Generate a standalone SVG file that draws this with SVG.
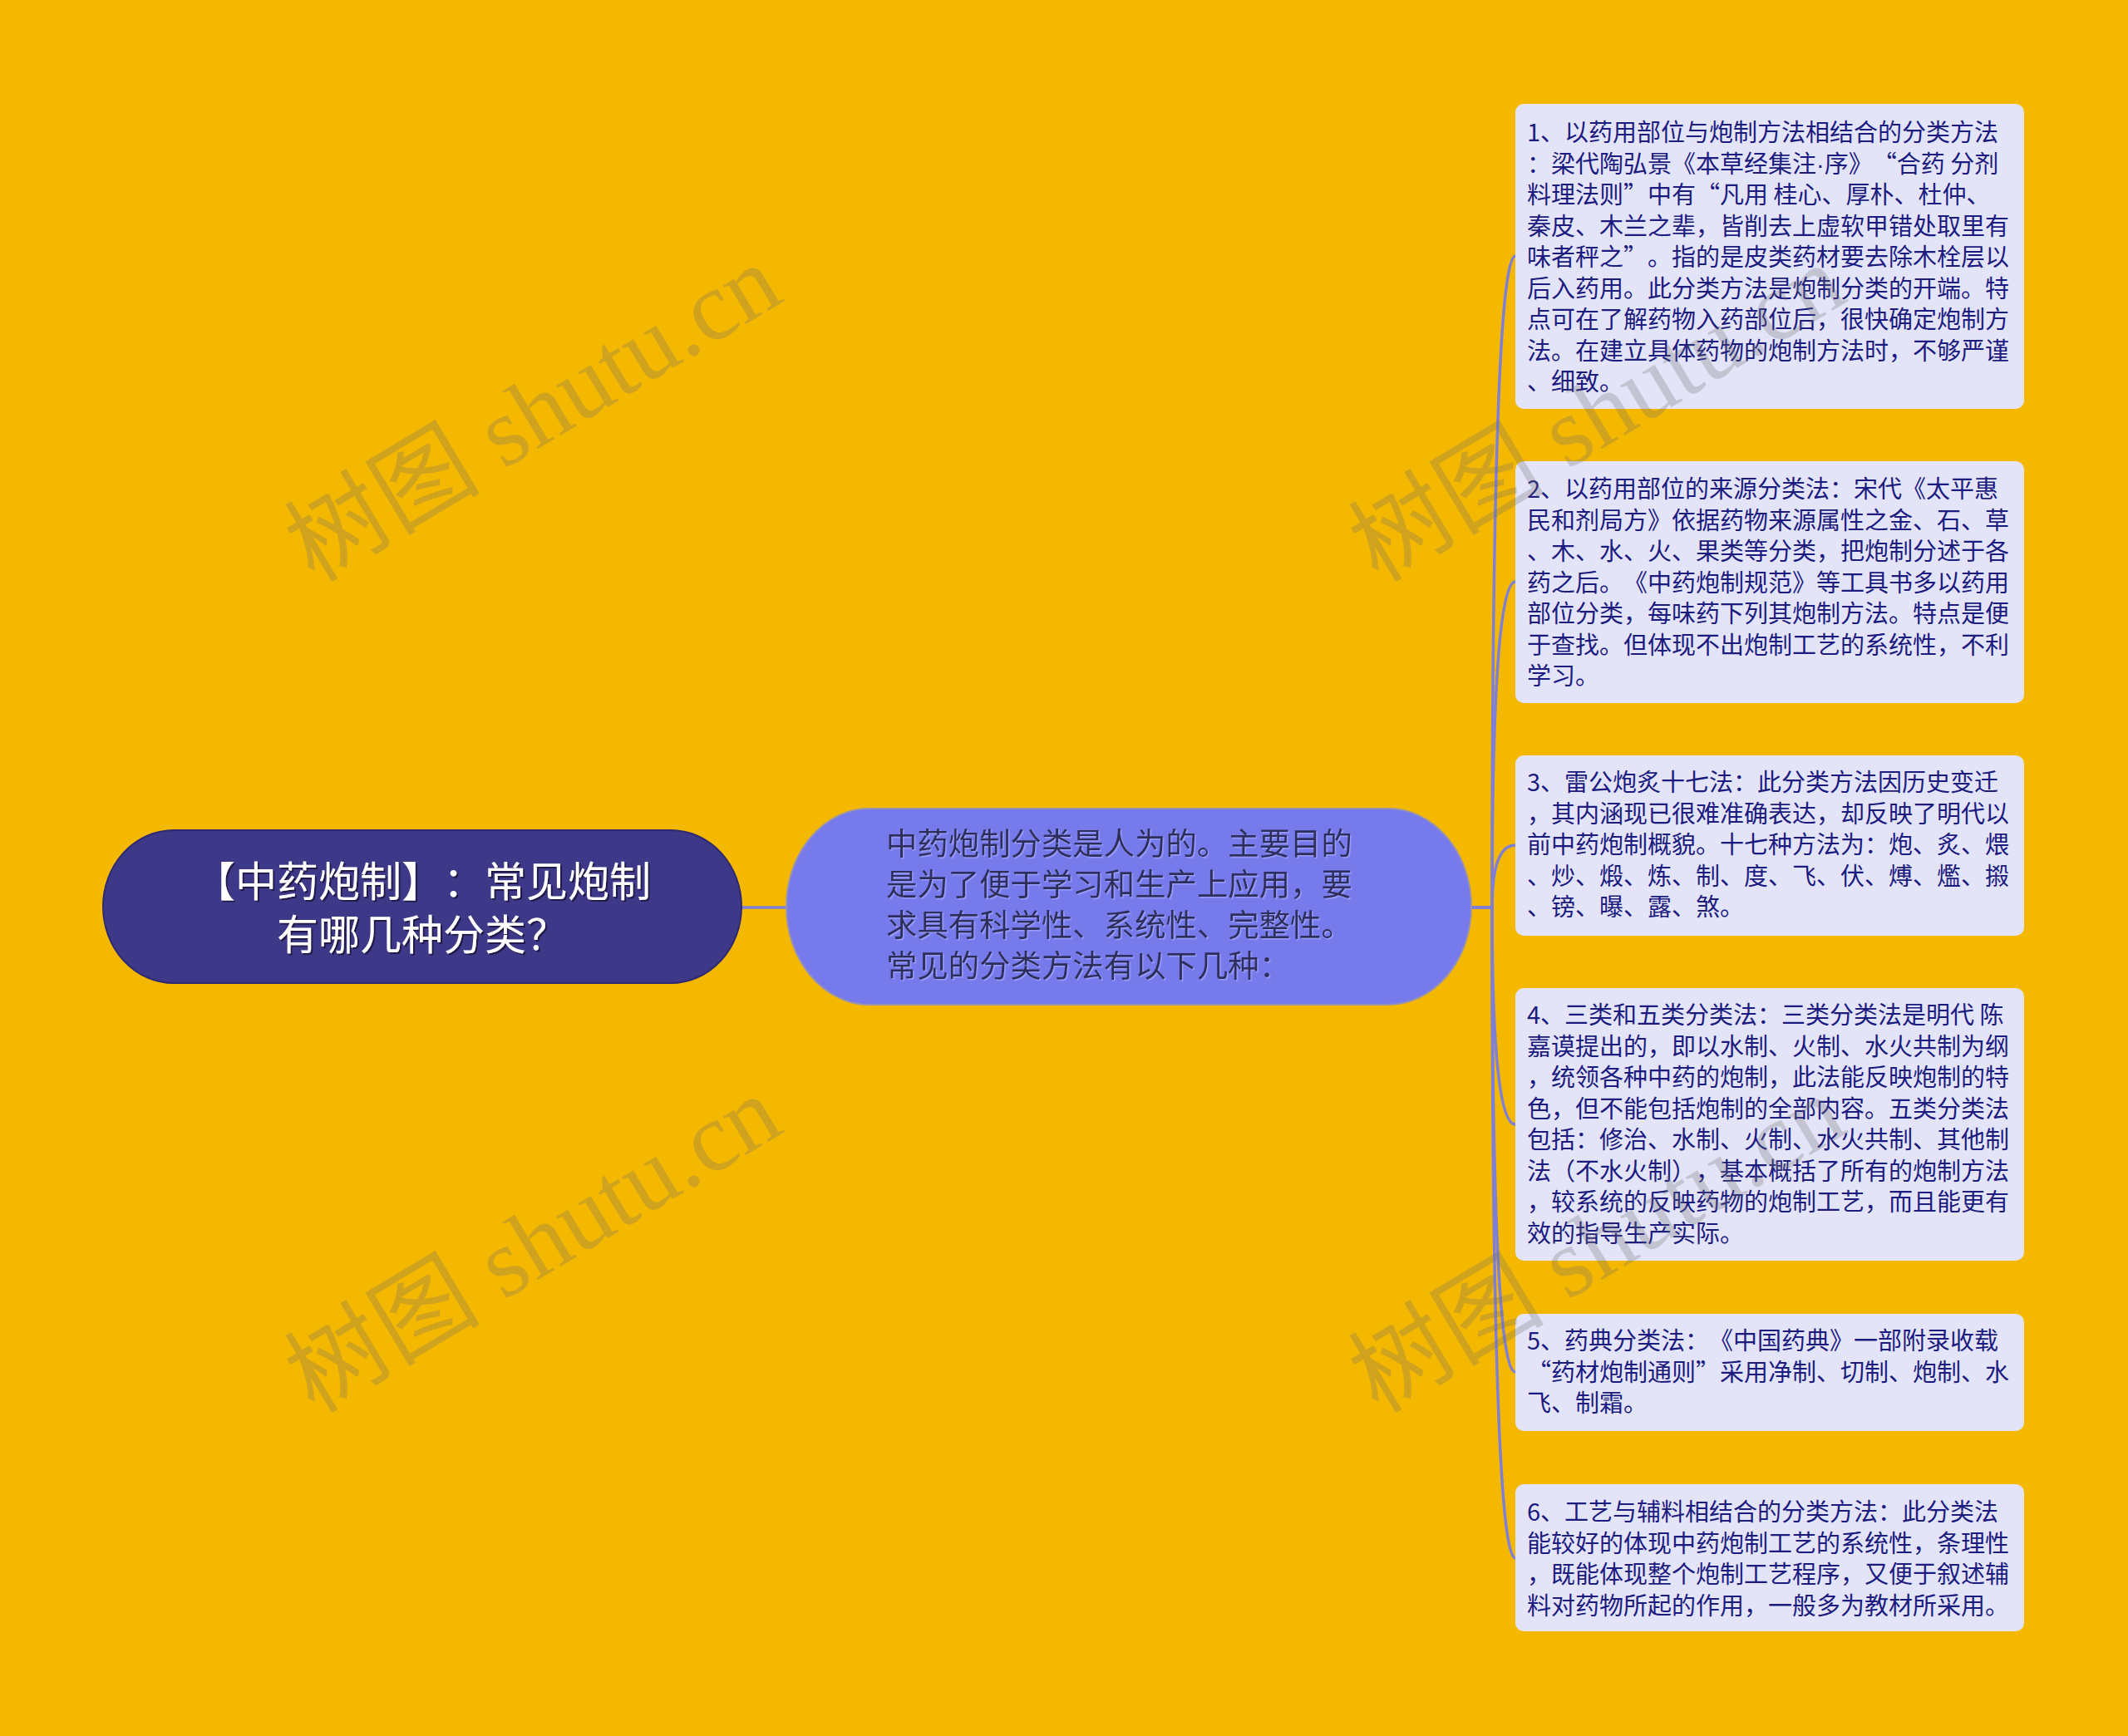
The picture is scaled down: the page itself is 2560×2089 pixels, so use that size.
<svg xmlns="http://www.w3.org/2000/svg" width="2560" height="2089" viewBox="0 0 2560 2089">
<defs>
<style>
.bg{fill:#f5b800}
.conn{fill:none;stroke:#7f7fd6;stroke-width:3.5}
.box{fill:#e4e4f8}
text{text-spacing-trim:space-all}
.bt{font-family:"Noto Sans CJK SC","Noto Sans",sans-serif;font-size:29px;fill:#1b1b80}
.ct{font-family:"Noto Sans CJK SC","Noto Sans",sans-serif;font-size:37.4px;fill:#2f2f5a}
.rt{font-family:"Noto Sans CJK SC","Noto Sans",sans-serif;font-size:50px;fill:#ffffff}
.lat{font-family:"Liberation Sans",sans-serif}
.wm{font-family:"Liberation Serif","Noto Sans CJK SC",serif;font-size:118px;fill:#707070;fill-opacity:0.28}
</style>
<filter id="rs" x="-5%" y="-5%" width="110%" height="110%">
<feDropShadow dx="2" dy="2" stdDeviation="0.5" flood-color="#1a1640" flood-opacity="0.9"/>
</filter>
<filter id="cs" x="-5%" y="-5%" width="110%" height="110%">
<feDropShadow dx="1.5" dy="1.5" stdDeviation="0.5" flood-color="#a0a4ff" flood-opacity="0.8"/>
</filter>
</defs>
<rect class="bg" x="0" y="0" width="2560" height="2089"/>

<g id="connectors">
<path class="conn" d="M 891 1092 L 947 1092"/>
<path class="conn" d="M 1770 1092 L 1795 1092 Q 1795 308 1823 308"/>
<path class="conn" d="M 1770 1092 L 1795 1092 Q 1795 700 1823 700"/>
<path class="conn" d="M 1770 1092 L 1795 1092 Q 1795 1017 1823 1017"/>
<path class="conn" d="M 1770 1092 L 1795 1092 Q 1795 1353 1823 1353"/>
<path class="conn" d="M 1770 1092 L 1795 1092 Q 1795 1651 1823 1651"/>
<path class="conn" d="M 1770 1092 L 1795 1092 Q 1795 1875 1823 1875"/>
</g>

<g id="root">
<rect x="124" y="999" width="768" height="184" rx="85" ry="92" fill="#3e3889" stroke="#2e2970" stroke-width="2"/>
<text class="rt" text-anchor="middle" filter="url(#rs)"><tspan x="508" y="1079">【中药炮制】：常见炮制</tspan><tspan x="508" y="1143">有哪几种分类？</tspan></text>
</g>

<g id="center">
<rect x="946" y="973" width="824" height="236" rx="100" ry="118" fill="#767aea" stroke="#9a93b0" stroke-width="2"/>
<text class="ct" filter="url(#cs)"><tspan x="1066" y="1029">中药炮制分类是人为的。主要目的</tspan><tspan x="1066" y="1078">是为了便于学习和生产上应用，要</tspan><tspan x="1066" y="1127">求具有科学性、系统性、完整性。</tspan><tspan x="1066" y="1176">常见的分类方法有以下几种：</tspan></text>
</g>

<g id="n1">
<rect class="box" x="1823" y="125" width="612" height="367" rx="10"/>
<text class="bt"><tspan x="1837" y="170">1、以药用部位与炮制方法相结合的分类方法</tspan><tspan x="1837" y="207.5">：梁代陶弘景《本草经集注<tspan class="lat">·</tspan>序》“合药 分剂</tspan><tspan x="1837" y="245">料理法则”中有“凡用 桂心、厚朴、杜仲、</tspan><tspan x="1837" y="282.5">秦皮、木兰之辈，皆削去上虚软甲错处取里有</tspan><tspan x="1837" y="320">味者秤之”。指的是皮类药材要去除木栓层以</tspan><tspan x="1837" y="357.5">后入药用。此分类方法是炮制分类的开端。特</tspan><tspan x="1837" y="395">点可在了解药物入药部位后，很快确定炮制方</tspan><tspan x="1837" y="432.5">法。在建立具体药物的炮制方法时，不够严谨</tspan><tspan x="1837" y="470">、细致。</tspan></text>
</g>

<g id="n2">
<rect class="box" x="1823" y="555" width="612" height="291" rx="10"/>
<text class="bt"><tspan x="1837" y="599">2、以药用部位的来源分类法：宋代《太平惠</tspan><tspan x="1837" y="636.5">民和剂局方》依据药物来源属性之金、石、草</tspan><tspan x="1837" y="674">、木、水、火、果类等分类，把炮制分述于各</tspan><tspan x="1837" y="711.5">药之后。《中药炮制规范》等工具书多以药用</tspan><tspan x="1837" y="749">部位分类，每味药下列其炮制方法。特点是便</tspan><tspan x="1837" y="786.5">于查找。但体现不出炮制工艺的系统性，不利</tspan><tspan x="1837" y="824">学习。</tspan></text>
</g>

<g id="n3">
<rect class="box" x="1823" y="909" width="612" height="217" rx="10"/>
<text class="bt"><tspan x="1837" y="952">3、雷公炮炙十七法：此分类方法因历史变迁</tspan><tspan x="1837" y="989.5">，其内涵现已很难准确表达，却反映了明代以</tspan><tspan x="1837" y="1027">前中药炮制概貌。十七种方法为：炮、炙、煨</tspan><tspan x="1837" y="1064.5">、炒、煅、炼、制、度、飞、伏、煿、爁、摋</tspan><tspan x="1837" y="1102">、镑、曝、露、煞。</tspan></text>
</g>

<g id="n4">
<rect class="box" x="1823" y="1189" width="612" height="328" rx="10"/>
<text class="bt"><tspan x="1837" y="1232">4、三类和五类分类法：三类分类法是明代 陈</tspan><tspan x="1837" y="1269.5">嘉谟提出的，即以水制、火制、水火共制为纲</tspan><tspan x="1837" y="1307">，统领各种中药的炮制，此法能反映炮制的特</tspan><tspan x="1837" y="1344.5">色，但不能包括炮制的全部内容。五类分类法</tspan><tspan x="1837" y="1382">包括：修治、水制、火制、水火共制、其他制</tspan><tspan x="1837" y="1419.5">法（不水火制），基本概括了所有的炮制方法</tspan><tspan x="1837" y="1457">，较系统的反映药物的炮制工艺，而且能更有</tspan><tspan x="1837" y="1494.5">效的指导生产实际。</tspan></text>
</g>

<g id="n5">
<rect class="box" x="1823" y="1581" width="612" height="141" rx="10"/>
<text class="bt"><tspan x="1837" y="1624">5、药典分类法：《中国药典》一部附录收载</tspan><tspan x="1837" y="1661.5">“药材炮制通则”采用净制、切制、炮制、水</tspan><tspan x="1837" y="1699">飞、制霜。</tspan></text>
</g>

<g id="n6">
<rect class="box" x="1823" y="1786" width="612" height="177" rx="10"/>
<text class="bt"><tspan x="1837" y="1830">6、工艺与辅料相结合的分类方法：此分类法</tspan><tspan x="1837" y="1867.5">能较好的体现中药炮制工艺的系统性，条理性</tspan><tspan x="1837" y="1905">，既能体现整个炮制工艺程序，又便于叙述辅</tspan><tspan x="1837" y="1942.5">料对药物所起的作用，一般多为教材所采用。</tspan></text>
</g>

<g id="watermarks">
<text class="wm" transform="translate(378,702) rotate(-31)">树图 shutu.cn</text>
<text class="wm" transform="translate(378,1702) rotate(-31)">树图 shutu.cn</text>
<text class="wm" transform="translate(1658,702) rotate(-31)">树图 shutu.cn</text>
<text class="wm" transform="translate(1658,1702) rotate(-31)">树图 shutu.cn</text>
</g>
</svg>
